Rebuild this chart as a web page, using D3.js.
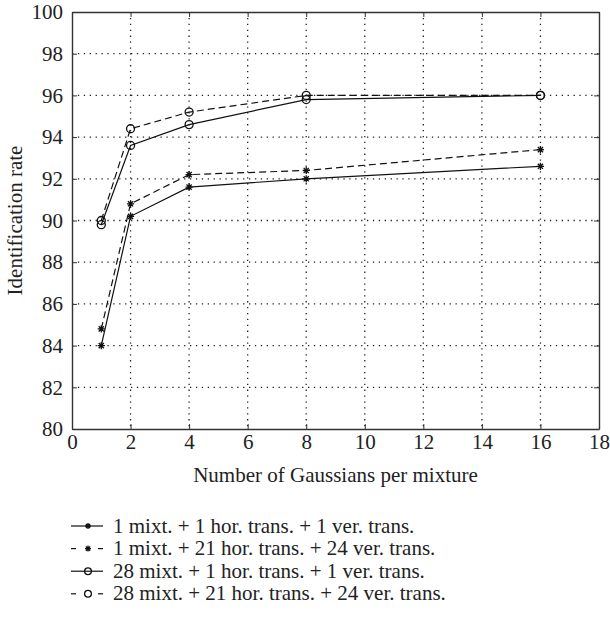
<!DOCTYPE html>
<html>
<head>
<meta charset="utf-8">
<script src="https://cdn.jsdelivr.net/npm/d3@7"></script>
<style>
  body { margin: 0; background: #fff; }
  text { font-family: "Liberation Serif", "DejaVu Serif", serif; fill: #222; }
</style>
</head>
<body>
<div id="chart"></div>
<script>
// gaussians per mixture
var gaussians = [1, 2, 4, 8, 16];

var oneMixOneTrans = [84.0, 90.2, 91.6, 92.0, 92.6];
var oneMixManyTrans = [84.8, 90.8, 92.2, 92.4, 93.4];
var manyMixOneTrans = [89.8, 93.6, 94.6, 95.8, 96.0];
var manyMixManyTrans = [90.0, 94.4, 95.2, 96.0, 96.0];

var seriesNames = [
    "1 mixt. + 1 hor. trans. + 1 ver. trans.",
    "1 mixt. + 21 hor. trans. + 24 ver. trans.",
    "28 mixt. + 1 hor. trans. + 1 ver. trans.",
    "28 mixt. + 21 hor. trans. + 24 ver. trans."
];
var xTicks = [0, 2, 4, 6, 8, 10, 12, 14, 16, 18];
var yTicks = [80, 82, 84, 86, 88, 90, 92, 94, 96, 98, 100];

var series = [
    {name: seriesNames[0], values: oneMixOneTrans, dashed: false, marker: "star"},
    {name: seriesNames[1], values: oneMixManyTrans, dashed: true, marker: "star"},
    {name: seriesNames[2], values: manyMixOneTrans, dashed: false, marker: "circle"},
    {name: seriesNames[3], values: manyMixManyTrans, dashed: true, marker: "circle"}
];

var fontSize = "21px";
var margin = {top: 12, right: 11, bottom: 188, left: 72};
var width = 610 - margin.left - margin.right,
    height = 617 - margin.top - margin.bottom;

var svg = d3.select("#chart").append("svg")
    .attr("width", 610)
    .attr("height", 617);

var g = svg.append("g")
    .attr("transform", "translate(" + margin.left + "," + margin.top + ")");

var x = d3.scaleLinear().domain([0, 18]).range([0, width]);
var y = d3.scaleLinear().domain([80, 100]).range([height, 0]);

//dotted grid
g.append("g").selectAll("line.gx")
    .data(xTicks.slice(1, -1))
    .enter().append("line")
    .attr("x1", function (d) { return x(d); })
    .attr("x2", function (d) { return x(d); })
    .attr("y1", 0).attr("y2", height)
    .attr("stroke", "#222").attr("stroke-width", 1.3)
    .attr("stroke-dasharray", "1.3,4.6");

g.append("g").selectAll("line.gy")
    .data(yTicks.slice(1, -1))
    .enter().append("line")
    .attr("y1", function (d) { return y(d); })
    .attr("y2", function (d) { return y(d); })
    .attr("x1", 0).attr("x2", width)
    .attr("stroke", "#222").attr("stroke-width", 1.3)
    .attr("stroke-dasharray", "1.3,4.6");

// axes (ticks inside, box all round)
var xAxis = d3.axisBottom(x).tickValues(xTicks).tickSizeInner(-5).tickSizeOuter(0).tickPadding(8);
var yAxis = d3.axisLeft(y).tickValues(yTicks).tickSizeInner(-5).tickSizeOuter(0).tickPadding(9);

var gx = g.append("g")
    .attr("transform", "translate(0," + height + ")")
    .call(xAxis);
var gy = g.append("g").call(yAxis);

g.append("g").call(d3.axisTop(x).tickValues(xTicks).tickSizeInner(-5).tickSizeOuter(0).tickFormat(""));
g.append("g").attr("transform", "translate(" + width + ",0)")
    .call(d3.axisRight(y).tickValues(yTicks).tickSizeInner(-5).tickSizeOuter(0).tickFormat(""));

g.selectAll(".domain").attr("stroke", "#333").attr("stroke-width", 1.4);
g.selectAll(".tick line").attr("stroke", "#333");
g.selectAll(".tick text").style("font-size", fontSize).style("font-family", "Liberation Serif").attr("fill", "#222");
gx.selectAll(".tick text").attr("dy", "0.55em");

//axis titles
g.append("text")
    .attr("x", width / 2)
    .attr("y", height + 53)
    .attr("text-anchor", "middle")
    .style("font-size", fontSize)
    .text("Number of Gaussians per mixture");

svg.append("text")
    .attr("transform", "translate(22," + (margin.top + height / 2) + ") rotate(-90)")
    .attr("text-anchor", "middle")
    .style("font-size", fontSize)
    .text("Identification rate");

function starPath(r) {
    var d = r * 0.72;
    return "M" + (-r) + ",0L" + r + ",0M0," + (-r) + "L0," + r +
        "M" + (-d) + "," + (-d) + "L" + d + "," + d +
        "M" + (-d) + "," + d + "L" + d + "," + (-d);
}

function drawMarker(sel, type, size) {
    if (type === "star") {
        sel.append("path")
            .attr("d", starPath(size + 0.6))
            .attr("stroke", "#111")
            .attr("stroke-width", 1.3)
            .attr("fill", "none");
    } else {
        sel.append("circle")
            .attr("r", size + 1)
            .attr("fill", "none")
            .attr("stroke", "#111")
            .attr("stroke-width", 1.3);
    }
}

var line = d3.line()
    .x(function (d, i) { return x(gaussians[i]); })
    .y(function (d) { return y(d); });

series.forEach(function (s) {
    g.append("path")
        .datum(s.values)
        .attr("d", line)
        .attr("fill", "none")
        .attr("stroke", "#111")
        .attr("stroke-width", 1.2)
        .attr("stroke-dasharray", s.dashed ? "7,4" : null);

    s.values.forEach(function (v, i) {
        var m = g.append("g")
            .attr("transform", "translate(" + x(gaussians[i]) + "," + y(v) + ")");
        drawMarker(m, s.marker, 3);
    });
});

//legend
var legend = svg.append("g").attr("transform", "translate(71,526)");
var rows = legend.selectAll("g.row")
    .data(series)
    .enter().append("g")
    .attr("transform", function (d, i) { return "translate(0," + (i * 22.6) + ")"; });

rows.each(function (s) {
    var r = d3.select(this);
    if (s.dashed) {
        r.append("line").attr("x1", 0).attr("x2", 5).attr("y1", 0).attr("y2", 0)
            .attr("stroke", "#111").attr("stroke-width", 1.2);
        r.append("line").attr("x1", 27).attr("x2", 32).attr("y1", 0).attr("y2", 0)
            .attr("stroke", "#111").attr("stroke-width", 1.2);
    } else {
        r.append("line").attr("x1", 0).attr("x2", 32).attr("y1", 0).attr("y2", 0)
            .attr("stroke", "#111").attr("stroke-width", 1.2);
    }
    var m = r.append("g").attr("transform", "translate(17,0)");
    drawMarker(m, s.marker, 2.4);
    r.append("text")
        .attr("x", 42)
        .attr("y", 6.5)
        .style("font-size", fontSize)
        .text(s.name);
});
</script>
</body>
</html>
